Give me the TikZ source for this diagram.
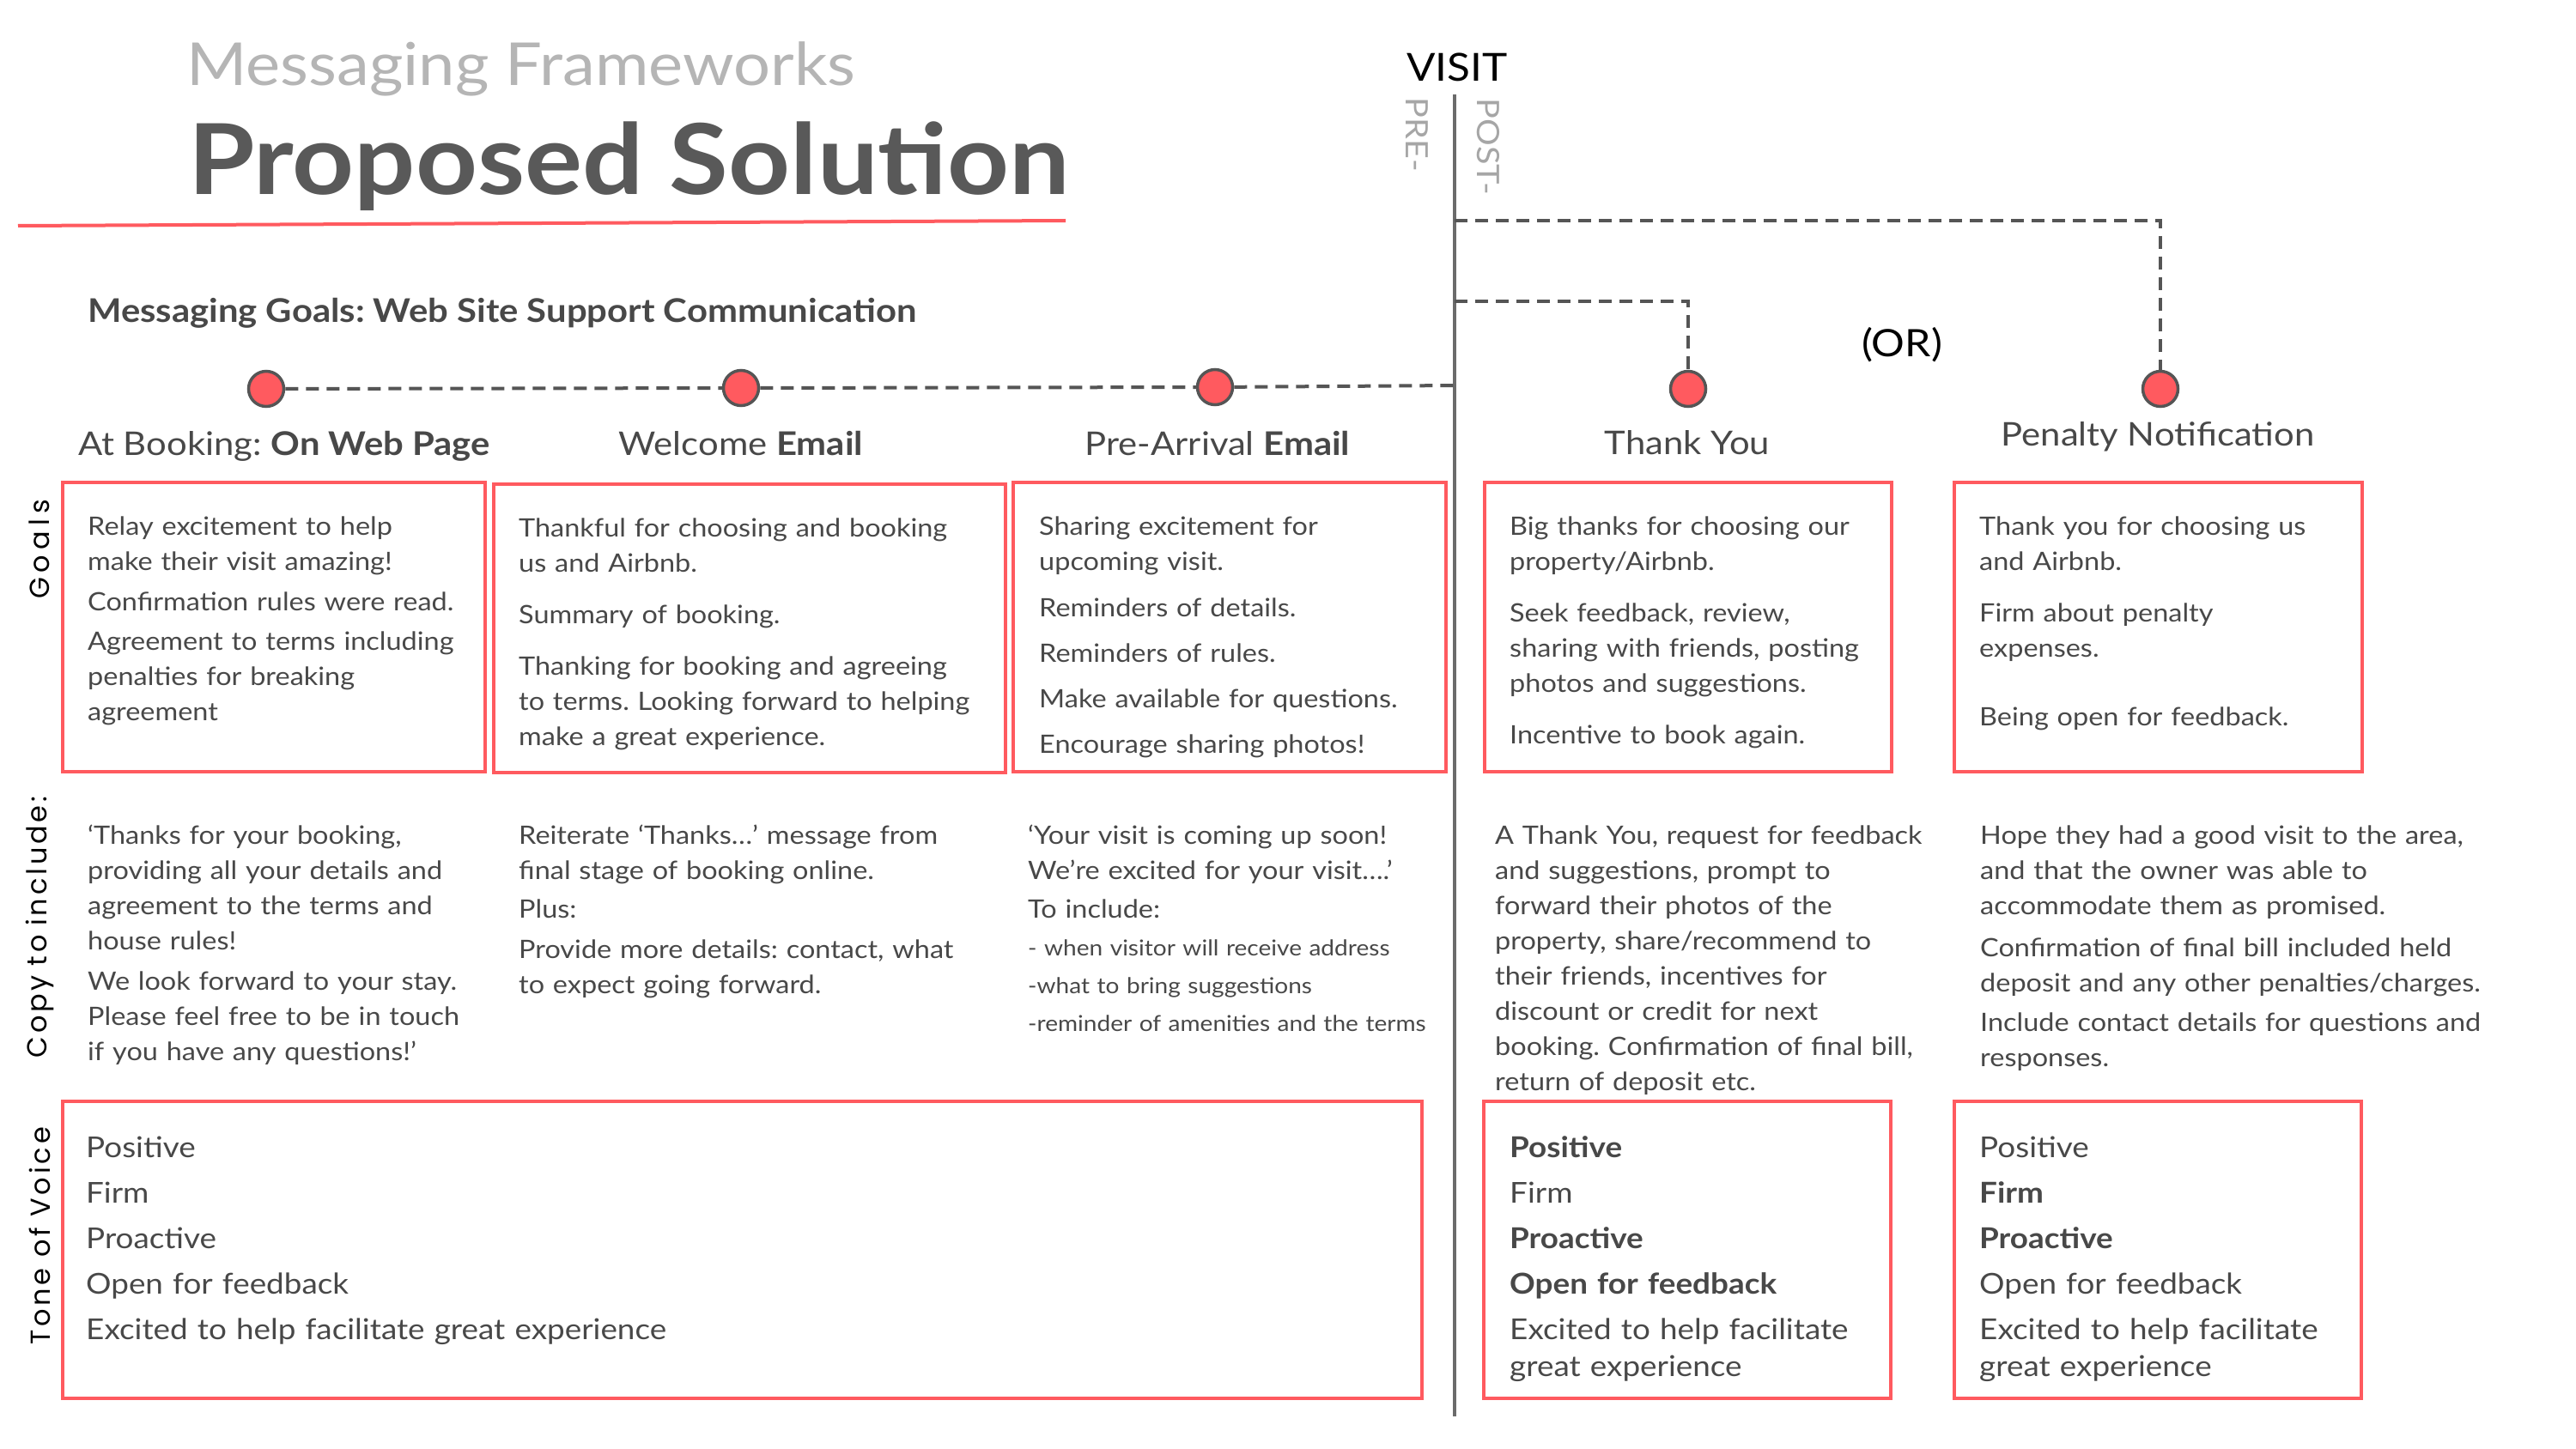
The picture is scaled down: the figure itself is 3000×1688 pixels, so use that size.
\documentclass[tikz,border=0pt]{standalone}
\usepackage{fontspec}
\setmainfont[FakeStretch=1.1]{Lato}
\newfontfamily\sidefont[LetterSpace=12]{Poppins}
\newfontfamily\goalsfont[LetterSpace=19]{Poppins}
\frenchspacing
\definecolor{redc}{HTML}{FF5A5F}
\definecolor{txt}{HTML}{484848}
\definecolor{dline}{HTML}{555555}
\definecolor{vlinec}{HTML}{6B6B6B}
\definecolor{ttlA}{HTML}{B5B5B5}
\definecolor{ttlB}{HTML}{595959}
\definecolor{pregray}{HTML}{A6A6A6}
\tikzset{
  box/.style={draw=redc, line width=4pt},
  dot/.style={circle, fill=redc, draw=dline, line width=3.5pt, minimum size=41pt, inner sep=0pt},
  dashc/.style={draw=dline, line width=4pt, dash pattern=on 15pt off 9pt},
  vl/.style={draw=vlinec, line width=4pt},
  body/.style={anchor=base west, inner sep=0pt, text=txt, align=left, text width=900pt, font=\frenchspacing\fontsize{29.5}{41}\selectfont},
  small/.style={anchor=base west, inner sep=0pt, text=txt, align=left, text width=900pt, font=\fontsize{25.5}{44}\selectfont},
  tone/.style={anchor=base west, inner sep=0pt, text=txt, align=left, text width=900pt, font=\fontsize{33.5}{53}\selectfont},
  head/.style={anchor=base, inner sep=0pt, text=txt, font=\fontsize{38}{44}\selectfont},
  side/.style={rotate=90, inner sep=0pt, text=black, font=\sidefont\fontsize{32}{38}\selectfont},
  prepost/.style={rotate=-90, inner sep=0pt, text=pregray, font=\fontsize{36}{44}\selectfont},
}
\begin{document}
\begin{tikzpicture}[x=1pt, y=-1pt]
\useasboundingbox (0,0) rectangle (3000,1688);
\fill[white] (0,0) rectangle (3000,1688);

% title
\node[anchor=base west, inner sep=0pt, text=ttlA, font=\fontsize{69}{80}\selectfont] (t1) at (217,100) {Messaging Frameworks};
\node[anchor=base west, inner sep=0pt, text=ttlB, font=\bfseries\fontsize{114}{130}\selectfont] (t2) at (219,227) {Proposed Solution};
\coordinate (ul1) at (21,263);
\coordinate (ul2) at (1241,257);
\draw[redc, line width=4pt] (ul1) -- (ul2);

\node[anchor=base west, inner sep=0pt, text=txt, font=\bfseries\fontsize{38}{44}\selectfont] (goalsttl) at (102,375) {Messaging Goals: Web Site Support Communication};

% visit divider
\node[anchor=base west, inner sep=0pt, text=black, font=\fontsize{45}{56}\selectfont] (visit) at (1638,95) {VISIT};
\node[prepost] (pre) at (1650,157) {PRE-};
\node[prepost] (post) at (1733,171) {POST-};
\coordinate (vtop) at (1694,110);
\coordinate (vbot) at (1694,1650);
\draw[vl] (vtop) -- (vbot);
\node[inner sep=0pt, text=black, font=\fontsize{44}{50}\selectfont] (or) at (2215,402) {(OR)};

% dots
\node[dot] (d1) at (310,453) {};
\node[dot] (d2) at (863,452) {};
\node[dot] (d3) at (1415,451) {};
\node[dot] (d4) at (1966,453) {};
\node[dot] (d5) at (2516,453) {};
\coordinate (vj1) at (1694,449);
\coordinate (vj2) at (1694,351);
\coordinate (vj3) at (1694,257);
\draw[dashc] (d1) -- (d2);
\draw[dashc] (d2) -- (d3);
\draw[dashc] (d3) -- (vj1);
\draw[dashc] (vj2) -| (d4);
\draw[dashc] (vj3) -| (d5);

% headers
\node[head] (h1) at (331,530) {At Booking: \textbf{On Web Page}};
\node[head] (h2) at (863,530) {Welcome \textbf{Email}};
\node[head] (h3) at (1418,530) {Pre-Arrival \textbf{Email}};
\node[head] (h4) at (1965,529) {Thank You};
\node[head] (h5) at (2513,519) {Penalty Notification};

% side labels
\node[rotate=90, inner sep=0pt, text=black, font=\goalsfont\fontsize{32}{38}\selectfont] (sg) at (46,640) {Goals};
\node[side] (sc) at (46,1080) {Copy\,\,to\,\,include:};
\node[side] (st) at (46,1440) {Tone of Voice};

% goals boxes
\draw[box] (73,562) rectangle (565,899);
\draw[box] (575,564) rectangle (1171,900);
\draw[box] (1180,562) rectangle (1684,899);
\draw[box] (1729,562) rectangle (2203,899);
\draw[box] (2276,562) rectangle (2751,899);

\node[body] (g1) at (102,623) {Relay excitement to help\\make their visit amazing!\\[6pt]Confirmation rules were read.\\[5pt]Agreement to terms including\\penalties for breaking\\agreement};
\node[body] (g2) at (604,625) {Thankful for choosing and booking\\us and Airbnb.\\[19pt]Summary of booking.\\[19pt]Thanking for booking and agreeing\\to terms. Looking forward to helping\\make a great experience.};
\node[body] (g3) at (1210,623) {Sharing excitement for\\upcoming visit.\\[13pt]Reminders of details.\\[12pt]Reminders of rules.\\[12pt]Make available for questions.\\[12pt]Encourage sharing photos!};
\node[body] (g4) at (1758,623) {Big thanks for choosing our\\property/Airbnb.\\[19pt]Seek feedback, review,\\sharing with friends, posting\\photos and suggestions.\\[19pt]Incentive to book again.};
\node[body] (g5) at (2305,623) {Thank you for choosing us\\and Airbnb.\\[19pt]Firm about penalty\\expenses.\\[39pt]Being open for feedback.};

% copy
\node[body] (c1) at (102,983) {‘Thanks for your booking,\\providing all your details and\\agreement to the terms and\\house rules!\\[6pt]We look forward to your stay.\\Please feel free to be in touch\\if you have any questions!’};
\node[body] (c2) at (604,983) {Reiterate ‘Thanks…’ message from\\final stage of booking online.\\[4pt]Plus:\\[6pt]Provide more details: contact, what\\to expect going forward.};
\node[body] (c3) at (1197,983) {‘Your visit is coming up soon!\\We’re excited for your visit….’\\[4pt]To include:};
\node[small] (c3b) at (1197,1113) {- when visitor will receive address\\-what to bring suggestions\\-reminder of amenities and the terms};
\node[body] (c4) at (1741,983) {A Thank You, request for feedback\\and suggestions, prompt to\\forward their photos of the\\property, share/recommend to\\their friends, incentives for\\discount or credit for next\\booking. Confirmation of final bill,\\return of deposit etc.};
\node[body] (c5) at (2306,983) {Hope they had a good visit to the area,\\and that the owner was able to\\accommodate them as promised.\\[8pt]Confirmation of final bill included held\\deposit and any other penalties/charges.\\[5pt]Include contact details for questions and\\responses.};

% tone boxes
\draw[box] (73,1283) rectangle (1656,1629);
\draw[box] (1728,1283) rectangle (2202,1629);
\draw[box] (2276,1283) rectangle (2750,1629);

\node[tone] (v1) at (100,1348) {Positive\\Firm\\Proactive\\Open for feedback\\Excited to help facilitate great experience};
\node[tone] (v2) at (1758,1348) {\textbf{Positive}\\Firm\\\textbf{Proactive}\\\textbf{Open for feedback}\\Excited to help facilitate\\[-10pt]great experience};
\node[tone] (v3) at (2305,1348) {Positive\\\textbf{Firm}\\\textbf{Proactive}\\Open for feedback\\Excited to help facilitate\\[-10pt]great experience};
\end{tikzpicture}
\end{document}
